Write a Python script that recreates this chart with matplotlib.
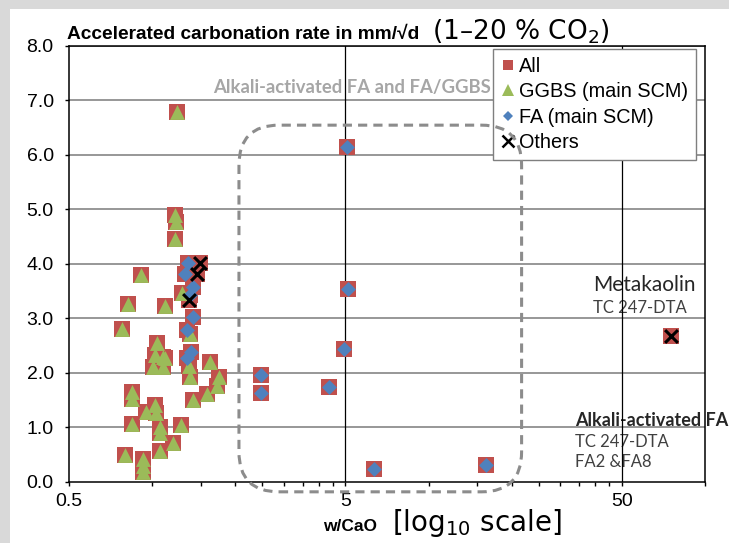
import matplotlib.pyplot as plt
from matplotlib import font_manager
from matplotlib.lines import Line2D
from matplotlib.patches import FancyBboxPatch, Rectangle
from matplotlib.transforms import IdentityTransform
from matplotlib.ticker import FixedLocator, NullFormatter


# ==========================
# Data
# ==========================

ggbs_x = [1.23, 1.21, 1.22, 1.21, 0.91, 0.815, 1.11, 1.28, 0.775, 1.37,
          1.04, 1.02, 1.09, 1.01, 1.09, 1.62, 1.37, 1.74, 1.71, 1.58,
          1.41, 0.845, 0.845, 0.953, 1.02, 1.03, 0.845, 1.07, 1.07, 1.27,
          1.19, 1.07, 0.797, 0.93, 0.93, 0.93, 1.36, 1.11]
ggbs_y = [6.78, 4.89, 4.76, 4.45, 3.79, 3.26, 3.22, 3.46, 2.80, 2.72,
          2.54, 2.33, 2.30, 2.11, 2.11, 2.20, 1.93, 1.93, 1.76, 1.62,
          1.50, 1.65, 1.53, 1.29, 1.41, 1.26, 1.07, 1.01, 0.90, 1.04,
          0.71, 0.57, 0.49, 0.43, 0.29, 0.19, 2.12, 2.27]

fa_x = [1.35, 1.31, 1.41, 1.37, 1.40, 1.34, 1.38, 1.34,
        5.07, 5.09, 4.95, 2.47, 2.47, 4.36, 6.36, 16.1]
fa_y = [4.01, 3.82, 3.58, 3.42, 3.02, 2.78, 2.39, 2.27,
        6.14, 3.53, 2.44, 1.97, 1.64, 1.75, 0.24, 0.32]

others_x = [1.49, 1.45, 1.36, 75.2]
others_y = [4.01, 3.82, 3.33, 2.68]

all_x = ggbs_x + fa_x + others_x
all_y = ggbs_y + fa_y + others_y

legend_labels = ["All", "GGBS (main SCM)", "FA (main SCM)", "Others"]

x_major = [0.5, 5, 50]
x_minor = [1, 1.5, 2, 2.5, 3, 3.5, 4, 4.5,
           10, 15, 20, 25, 30, 35, 40, 45, 100]
y_ticks = [0, 1, 2, 3, 4, 5, 6, 7, 8]

# dashed region "Alkali-activated FA and FA/GGBS" (data coords)
box_x = (2.06, 21.7)
box_y = (-0.18, 6.54)


# ==========================
# Style
# ==========================

RED = "#c0504d"
GREEN = "#9bbb59"
BLUE = "#4f81bd"

names = {f.name for f in font_manager.fontManager.ttflist}
NARROW = "Liberation Sans Narrow" if "Liberation Sans Narrow" in names else "Liberation Sans"
SANS = "Liberation Sans"
WIDE = "DejaVu Sans"
CAL = "Lato"

plt.rcParams["font.family"] = SANS
plt.rcParams["mathtext.fontset"] = "dejavusans"


# ==========================
# Figure
# ==========================

W, H = 729, 543
fig = plt.figure(figsize=(W / 100, H / 100), dpi=100)
fig.patch.set_facecolor("white")

# grey screenshot frame on the left and top
fig.patches.append(Rectangle((0, 0), 10 / W, 1, transform=fig.transFigure,
                             facecolor="#d9d9d9", edgecolor="none", zorder=0))
fig.patches.append(Rectangle((0, 1 - 9 / H), 1, 9 / H, transform=fig.transFigure,
                             facecolor="#d9d9d9", edgecolor="none", zorder=0))

ax = fig.add_axes([69 / W, 61 / H, 636 / W, 436.5 / H])
ax.set_xscale("log")
ax.set_xlim(0.5, 100)
ax.set_ylim(0, 8)

ax.xaxis.set_major_locator(FixedLocator(x_major))
ax.xaxis.set_minor_locator(FixedLocator(x_minor))
ax.xaxis.set_minor_formatter(NullFormatter())
ax.set_xticklabels(["0.5", "5", "50"])
ax.set_yticks(y_ticks)
ax.set_yticklabels([f"{v:.1f}" for v in y_ticks])

ax.tick_params(axis="both", which="major", direction="out", length=3,
               width=1, labelsize=14, colors="black", pad=8)
ax.tick_params(axis="x", which="minor", direction="out", length=3, width=1)
ax.tick_params(axis="x", which="major", pad=5)

for sp in ax.spines.values():
    sp.set_color("black")
    sp.set_linewidth(1.1)

# gridlines
for yv in y_ticks[1:]:
    ax.axhline(yv, color="#7a7a7a", lw=1.1, zorder=1.5)
for xv in x_major[1:]:
    ax.axvline(xv, color="black", lw=0.9, zorder=1.5)


# ==========================
# Points
# ==========================

ax.scatter(all_x, all_y, marker="s", s=130, color=RED, linewidths=0, zorder=3)
ax.scatter(ggbs_x, ggbs_y, marker="^", s=115, color=GREEN, linewidths=0, zorder=4)
ax.scatter(fa_x, fa_y, marker="D", s=58, color=BLUE, linewidths=0, zorder=5)
ax.scatter(others_x, others_y, marker="x", s=85, color="black", linewidths=2.2, zorder=6)


# ==========================
# Annotations
# ==========================

ax.text(1.66, 7.23, "Alkali-activated FA and FA/GGBS", family=CAL, weight="bold",
        fontsize=13.3, color="#a6a6a6", va="center", ha="left", zorder=2)

ax.text(39.3, 3.61, "Metakaolin", family=CAL, fontsize=15, color="#262626",
        va="center", ha="left", zorder=1)
ax.text(39.3, 3.19, "TC 247-DTA", family=CAL, fontsize=12, color="#404040",
        va="center", ha="left", zorder=1)

ax.text(33.8, 1.12, "Alkali-activated FA", family=CAL, weight="bold", fontsize=13,
        color="#262626", va="center", ha="left", zorder=1, clip_on=False)
ax.text(33.8, 0.73, "TC 247-DTA", family=CAL, fontsize=12, color="#404040",
        va="center", ha="left", zorder=1)
ax.text(33.8, 0.37, "FA2 &FA8", family=CAL, fontsize=12, color="#404040",
        va="center", ha="left", zorder=1)


# ==========================
# Legend
# ==========================

handles = [
    Line2D([], [], ls="none", marker="s", markersize=7.5, color=RED, markeredgewidth=0),
    Line2D([], [], ls="none", marker="^", markersize=8.5, color=GREEN, markeredgewidth=0),
    Line2D([], [], ls="none", marker="D", markersize=5.5, color=BLUE, markeredgewidth=0),
    Line2D([], [], ls="none", marker="x", markersize=8, color="black", markeredgewidth=1.8),
]
leg = ax.legend(handles, legend_labels, loc="upper left",
                bbox_to_anchor=((493 - 69) / 636, (482 - 49) / 436.5),
                borderaxespad=0, frameon=True, fancybox=False, framealpha=1,
                edgecolor="#7f7f7f", handlelength=0.75, handletextpad=0.2,
                labelspacing=0.33, borderpad=0.38,
                prop={"family": SANS, "size": 14.3})
leg.get_frame().set_linewidth(1)
leg.set_zorder(10)


# ==========================
# Titles
# ==========================

t1 = fig.text(67 / W, 1 - 39 / H, r"Accelerated carbonation rate in mm/√d",
              family=NARROW, weight="bold", fontsize=16 if NARROW != SANS else 13.8,
              ha="left", va="baseline")
fig.canvas.draw()
r = fig.canvas.get_renderer()
bb = t1.get_window_extent(r)
fig.text((bb.x1 + 13) / W, 1 - 40 / H, r"(1–20 % CO$_2$)", family=WIDE,
         fontsize=19, ha="left", va="baseline")

fig.text(377 / W, 1 - 531 / H, "w/CaO", family=NARROW, weight="bold",
         fontsize=15 if NARROW != SANS else 12.5, ha="right", va="baseline")
fig.text(392 / W, 1 - 531 / H, r"[log$_{10}$ scale]", family=WIDE,
         fontsize=20, ha="left", va="baseline")


# ==========================
# Dashed rounded region
# ==========================

fig.canvas.draw()
(px0, py0), (px1, py1) = ax.transData.transform([(box_x[0], box_y[0]),
                                                 (box_x[1], box_y[1])])
box = FancyBboxPatch((px0, py0), px1 - px0, py1 - py0,
                     boxstyle="round,pad=0,rounding_size=40",
                     transform=IdentityTransform(), fill=False,
                     edgecolor="#8c8c8c", lw=2.2, ls=(0, (3, 2)),
                     zorder=2, clip_on=False)
fig.patches.append(box)

fig.savefig("out.png", dpi=100)
